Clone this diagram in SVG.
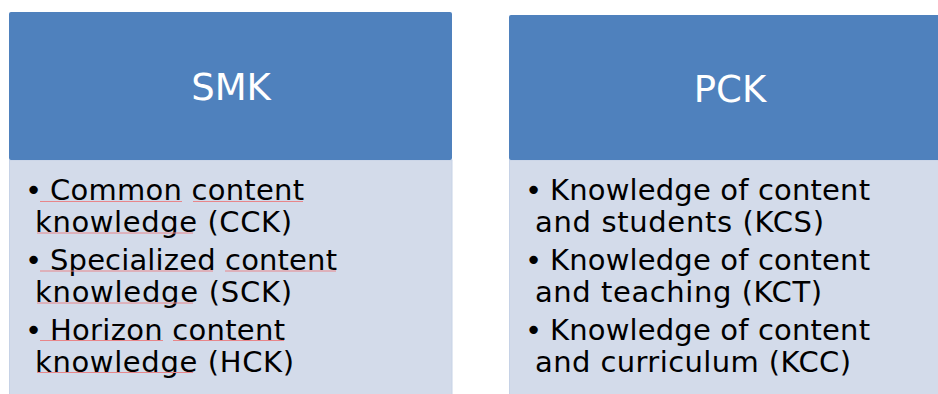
<svg xmlns="http://www.w3.org/2000/svg" width="938" height="394" viewBox="0 0 938 394">
  <style>
    .hdr { fill: #4f81bd; }
    .body { fill: #d3dbea; stroke: #c6d2e6; stroke-width: 1; }
    .title { font-family: "DejaVu Sans", Verdana, sans-serif; font-size: 37px; fill: #ffffff; text-anchor: middle; }
    .item { font-family: "DejaVu Sans", Verdana, sans-serif; font-size: 29px; fill: #000000; }
    .sq { stroke: #e8868a; stroke-width: 1; fill: none; }
  </style>
  <rect width="938" height="394" fill="#ffffff"/>
  <g id="smk">
    <rect class="body" x="9.5" y="160" width="442.5" height="240"/>
    <rect class="hdr" x="9" y="12" width="443" height="148" rx="2"/>
    <text class="title" x="231" y="100">SMK</text>
    <text class="item" x="25" y="199.5">•</text>
    <text class="item" x="50" y="199.5" textLength="254" lengthAdjust="spacing">Common content</text>
    <text class="item" x="35" y="231.5" textLength="257" lengthAdjust="spacing">knowledge (CCK)</text>
    <text class="item" x="25" y="269.5">•</text>
    <text class="item" x="50" y="269.5" textLength="287" lengthAdjust="spacing">Specialized content</text>
    <text class="item" x="35" y="301.5" textLength="257" lengthAdjust="spacing">knowledge (SCK)</text>
    <text class="item" x="25" y="339.5">•</text>
    <text class="item" x="50" y="339.5" textLength="235" lengthAdjust="spacing">Horizon content</text>
    <text class="item" x="35" y="371.5" textLength="259" lengthAdjust="spacing">knowledge (HCK)</text>
    <g class="sq">
      <path d="M40 201.5H182M193 201.5H303"/>
      <path d="M37 233H193"/>
      <path d="M40 271H213M225 271H336"/>
      <path d="M37 303H193"/>
      <path d="M40 340.5H163M173 340.5H284"/>
      <path d="M37 372.5H193"/>
    </g>
  </g>
  <g id="pck">
    <rect class="body" x="509.5" y="160" width="442" height="240"/>
    <rect class="hdr" x="509" y="15" width="442" height="145" rx="2"/>
    <text class="title" x="730" y="101.5">PCK</text>
    <text class="item" x="525" y="199.5">•</text>
    <text class="item" x="550" y="199.5" textLength="320" lengthAdjust="spacing">Knowledge of content</text>
    <text class="item" x="535" y="231.5" textLength="289" lengthAdjust="spacing">and students (KCS)</text>
    <text class="item" x="525" y="269.5">•</text>
    <text class="item" x="550" y="269.5" textLength="320" lengthAdjust="spacing">Knowledge of content</text>
    <text class="item" x="535" y="301.5" textLength="287" lengthAdjust="spacing">and teaching (KCT)</text>
    <text class="item" x="525" y="339.5">•</text>
    <text class="item" x="550" y="339.5" textLength="320" lengthAdjust="spacing">Knowledge of content</text>
    <text class="item" x="535" y="371.5" textLength="316" lengthAdjust="spacing">and curriculum (KCC)</text>
  </g>
  <g id="connectors"/>
</svg>
